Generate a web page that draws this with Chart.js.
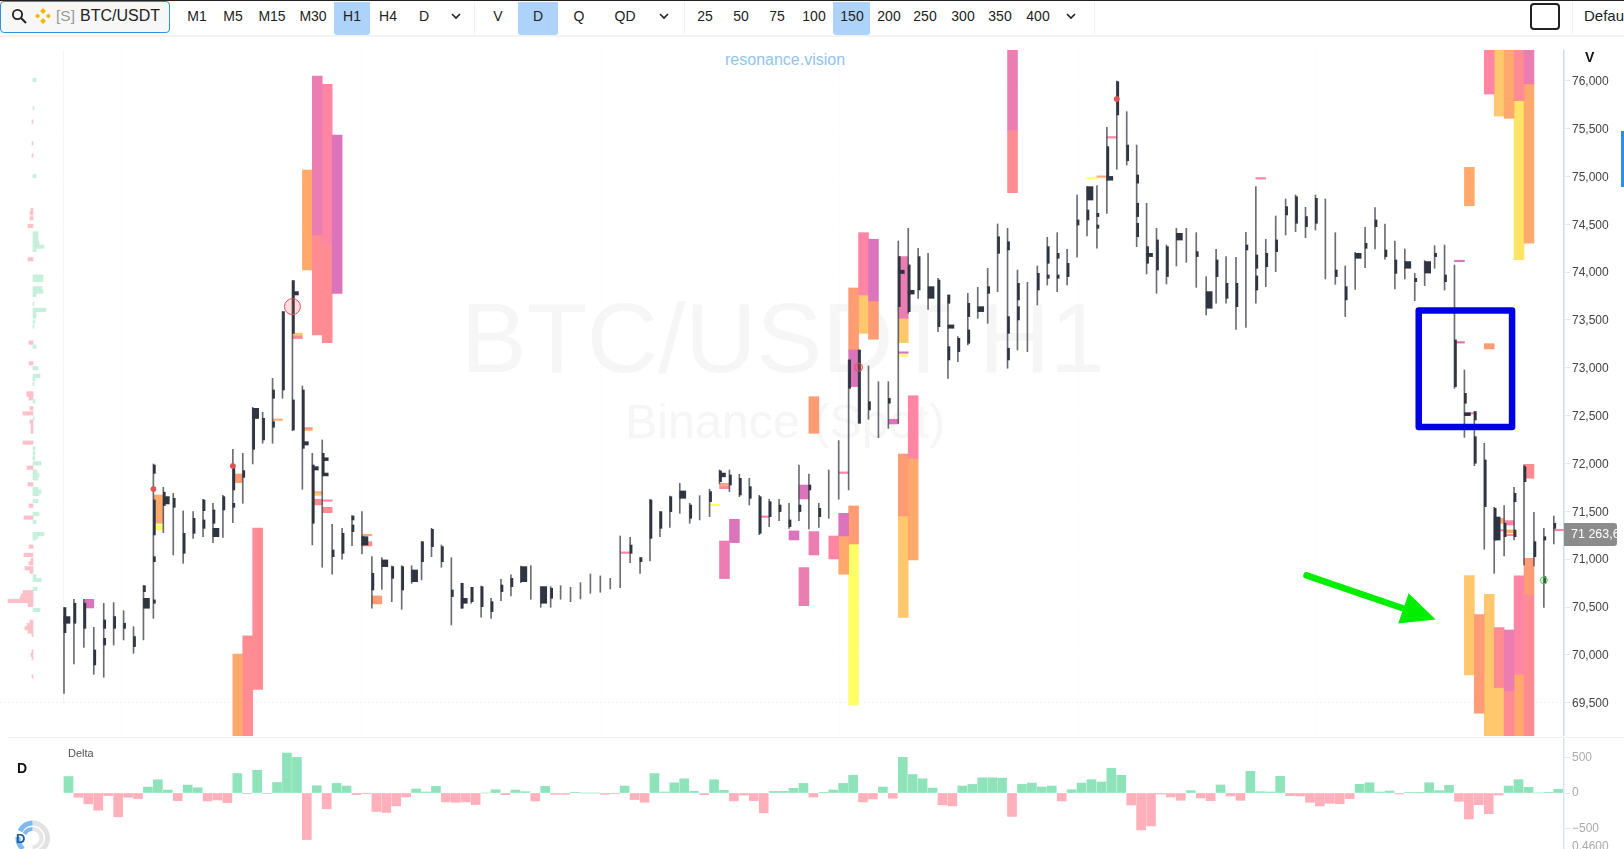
<!DOCTYPE html>
<html>
<head>
<meta charset="utf-8">
<title>BTC/USDT H1</title>
<script src="https://cdn.jsdelivr.net/npm/chart.js@4"></script>
<style>
html,body{margin:0;padding:0;background:#fff;overflow:hidden}
body{width:1624px;height:849px;position:relative;font-family:"Liberation Sans",Arial,sans-serif;color:#222}
canvas{position:absolute;display:block}
.abs{position:absolute;white-space:nowrap}
#topline{left:0;top:0;width:1624px;height:1px;background:#222}
#bar{left:0;top:1px;width:1624px;height:34px;background:#fff;border-bottom:2px solid #f3f3f3}
#search{left:0;top:1px;width:168px;height:30px;background:#f7f7f7;border:1px solid #2f8fd8;border-radius:4px}
.hl{position:absolute;top:1px;height:33px;background:#aed3fb;border-radius:0 0 3px 3px}
.btn{position:absolute;top:16px;transform:translate(-50%,-50%);font-size:14px;color:#222}
.sep{position:absolute;top:1px;width:1px;height:32px;background:#f1f1f1}
#mark{left:725px;top:51px;font-size:16px;color:#8fc4f0}
#wm1{left:461px;top:282px;font-size:98.5px;line-height:112px;color:#f6f6f7}
#wm2{left:625px;top:393px;font-size:48.4px;line-height:56px;color:#f6f6f7}
</style>
</head>
<body>
<div id="wm1" class="abs">BTC/USDT H1</div>
<div id="wm2" class="abs">Binance (Spot)</div>
<div class="abs" style="left:63px;top:50px;width:1px;height:655px;background:#f4f4f4"></div>
<div class="abs" style="left:8px;top:737px;width:1616px;height:1px;background:#f2f2f2"></div>
<div id="mark" class="abs">resonance.vision</div>

<canvas id="profileChart" width="63" height="686" style="left:0;top:50px"></canvas>
<canvas id="priceChart" width="1624" height="686" style="left:0;top:50px"></canvas>
<canvas id="deltaChart" width="1624" height="111" style="left:0;top:738px"></canvas>

<div id="topline" class="abs"></div>
<div id="bar" class="abs"></div>
<div id="search" class="abs"></div>
<svg class="abs" style="left:11px;top:8px" width="16" height="16" viewBox="0 0 16 16"><circle cx="6.5" cy="6.5" r="4.6" fill="none" stroke="#222" stroke-width="1.8"/><path d="M10 10l5 5" stroke="#222" stroke-width="2"/></svg>
<svg class="abs" style="left:35px;top:8px" width="16" height="16" viewBox="0 0 16 16"><path d="M8 0l3 3-3 3-3-3zM2.6 5.4l2.6 2.6-2.6 2.6L0 8zM13.4 5.4L16 8l-2.6 2.6L10.800 8zM8 10l3 3-3 3-3-3z" fill="#f0b90b"/></svg>
<div class="abs" style="left:56px;top:7px;font-size:15.5px;color:#9a9a9a">[S]</div>
<div class="abs" style="left:80px;top:7px;font-size:16px;color:#222">BTC/USDT</div>

<div class="abs" style="left:1530px;top:3px;width:26px;height:23px;border:2px solid #222;border-radius:4px"></div>
<div class="abs" style="left:1584px;top:7px;width:40px;overflow:hidden;font-size:15px">Default</div>

<div class="abs" style="left:1585px;top:49px;font-size:14px;font-weight:bold;color:#111">V</div>
<div class="abs" style="left:17px;top:760px;font-size:14px;font-weight:bold;color:#111">D</div>
<div class="abs" style="left:68px;top:747px;font-size:11px;color:#555">Delta</div>
<div class="abs" style="left:1621px;top:131px;width:3px;height:56px;background:#2a8fe8"></div>
<div class="abs" style="left:1564px;top:523px;width:53px;height:23px;background:#8c8c8c;border-radius:0 3px 3px 0;overflow:hidden">
  <div class="abs" style="left:7px;top:4px;font-size:12.500px;color:#fff">71 263,6</div>
</div>
<div class="abs" style="left:1572px;top:839px;height:10px;overflow:hidden;font-size:12px;line-height:14px;color:#aaa">0.4600</div>

<svg class="abs" style="left:14px;top:820px" width="36" height="29" viewBox="0 0 36 29">
  <path d="M18.500 3A15 15 0 0 1 18.500 33" fill="none" stroke="#e2e2e2" stroke-width="5"/>
  <path d="M18.500 9A9 9 0 0 1 18.500 27" fill="none" stroke="#e6e6e6" stroke-width="4"/>
  <path d="M18.500 3A15 15 0 0 0 6 11M4 17A15 15 0 0 0 9 29" fill="none" stroke="#7fb8ee" stroke-width="5"/>
  <path d="M18.500 9A9 9 0 0 0 10.500 14" fill="none" stroke="#7fb8ee" stroke-width="4"/>
</svg>
<div class="abs" style="left:16px;top:831px;font-size:13px;font-weight:bold;color:#1c5e9e">D</div>

<script>
// price scale bounds of the main pane
const priceTop = 76321;
const priceBottom = 69152;
const priceTicks = [69500,70000,70500,71000,71500,72000,72500,73000,73500,74000,74500,75000,75500,76000];

const candleHigh = [70494,70580,70580,70288,70539,70546,70462,70295,70723,71995,
71751,71688,71504,71497,71626,71584,71667,72148,72106,72587,
72535,72890,73587,73911,72810,72106,72246,71364,71322,71455,
71497,71026,71016,70929,70932,70932,71183,71322,71148,71016,
70748,70706,70720,70591,70790,70835,70929,70932,70713,70713,
70723,70706,70755,70845,70825,70800,71242,71229,71016,71626,
71497,71660,71793,71584,71664,71730,71932,71932,71887,71845,
71667,71626,71626,71584,71984,71890,71584,71932,72239,73082,
73186,73019,72855,72855,74325,74458,74249,74196,73935,73761,
73326,73778,73841,74040,74503,74458,74022,73893,74064,74364,
74412,74238,74806,74893,74903,75513,75997,75677,75328,74719,
74458,74283,74458,74458,74412,73953,74238,74162,74155,74416,
74893,74343,74586,74764,74806,74677,74806,74764,74412,74064,
74207,74468,74673,74503,74325,74242,73987,74120,74277,74283,
74074,72977,72542,72211,71542,71559,71751,71984,71490,71322,71451];

const candleLow = [69598,69905,70079,69797,69766,70103,70156,70016,70156,70382,
71277,71044,70957,71218,71235,71173,71228,71382,71584,71995,
72211,72211,72681,72343,71730,71148,70915,70842,71000,71141,
71054,70487,70685,70556,70476,70748,70783,71026,70915,70312,
70487,70539,70393,70382,70567,70615,70755,70581,70497,70497,
70581,70556,70584,70643,70654,70689,70703,70964,70852,70981,
71235,71333,71479,71375,71410,71444,71786,71706,71653,71566,
71256,71340,71403,71322,71403,71316,71333,71427,71626,71723,
72420,72462,72270,72367,72419,73570,73726,73611,73378,72890,
73064,73239,73517,73465,73796,72995,73186,73169,73657,73865,
73796,73865,74155,74377,74249,74614,75074,75119,74266,73980,
73778,73876,74064,74102,73841,73552,73674,73674,73402,73423,
73674,73848,74005,74388,74423,74360,74440,73928,73872,73535,
73820,74047,74242,74134,73824,73928,73702,73859,74040,73813,
72786,72273,71977,71103,70852,71033,71201,70939,70929,70497,71159];

// per candle volume profile: [candle, top price, bottom price]
const profileThin = [[0,70494,70232],[1,70539,70330],[2,70539,70277],[3,70051,69895],[4,70365,70277],[4,70173,70103],[5,70400,70277],[6,70330,70277],[7,70191,70086],[8,70723,70660],
[9,71984,71897],[9,71619,71253],[9,71026,70974],[9,70574,70539],[10,71700,71560],[11,71636,71542],[12,71270,71061],[13,71427,71270],[14,71619,71507],[14,71410,71322],
[15,71514,71375],[16,71653,71514],[17,71984,71723],[17,71584,71542],[18,71925,71855],[19,72576,72148],[20,72472,72246],[21,72768,72681],[21,72437,72378],[22,73587,72768],
[23,73911,73360],[23,72664,72350],[24,72768,72158],[25,71984,71375],[26,72106,71897],[27,71096,71026],[28,71270,71061],[29,71451,71410],[29,71357,71288],[30,71235,71148],
[31,70852,70678],[33,70922,70800],[34,70922,70678],[36,71183,70974],[37,71312,71131],[38,71131,70974],[39,70678,70609],[40,70748,70487],[41,70706,70556],[42,70713,70504],
[43,70556,70452],[44,70730,70661],[45,70800,70713],[49,70696,70591],[57,71148,71061],[58,71016,70974],[59,71619,71218],[60,71497,71322],[61,71653,71497],[63,71566,71427],
[65,71706,71601],[66,71922,71810],[67,71880,71775],[68,71845,71671],[69,71758,71636],[70,71653,71270],[71,71601,71444],[72,71566,71497],[73,71410,71340],[74,71566,71497],
[75,71775,71723],[76,71531,71444],[79,73082,72785],[80,73186,72420],[81,72646,72559],[83,72680,72630],[84,74162,73639],[85,74075,73587],[86,74162,73813],[88,73917,73430],
[89,73761,73674],[89,73221,73082],[90,73308,73169],[91,73674,73535],[91,73395,73256],[93,73848,73778],[94,74370,74196],[95,74318,74231],[95,73535,73360],[95,73204,73082],
[96,73883,73709],[96,73639,73500],[98,73987,73813],[99,74266,74092],[99,73970,73935],[100,74196,74144],[100,73970,73935],[101,74092,73953],[102,74545,74492],[103,74649,74545],
[104,74614,74580],[104,74492,74458],[105,75311,74963],[106,75990,75642],[107,75328,75165],[108,75015,74930],[108,74720,74580],[108,74510,74370],[109,74266,74092],[110,74336,74022],[111,74266,73953],[114,74214,74162],
[116,74127,73953],[117,73883,73726],[118,73883,73639],[119,74283,74231],[120,74179,74040],[120,73960,73813],[121,74196,74057],[122,74336,74214],[123,74684,74597],[124,74788,74510],[125,74580,74475],
[126,74771,74510],[128,74022,73953],[129,73848,73709],[131,74301,74249],[132,74545,74475],[133,74231,74162],[134,74127,73987],[136,73935,73900],[138,74196,74162],[139,73970,73900],
[140,73291,72803],[141,72733,72629],[142,72542,72455],[142,72280,72002],[143,72037,71549],[144,71532,71200],[145,71375,71235],[146,71688,71601],[146,71305,71235],[147,71967,71810],
[148,71183,71026],[149,71235,71200],[149,70818,70748],[150,71375,71322]];

const profileWide = [[0,70400,70330],[8,70591,70487],[10,71654,71577],[15,71322,71235],[19,72576,72470],[23,73796,73761],[24,72228,72193],[25,71967,71932],[26,72060,72030],[26,71900,71870],
[30,71235,71148],[32,70992,70922],[35,70887,70765],[40,70591,70539],[46,70922,70765],[48,70713,70539],[62,71713,71636],[66,71900,71860],[84,74020,73985],[85,73810,73770],
[87,73848,73726],[89,73448,73413],[92,73639,73587],[103,74893,74753],[105,75000,74960],[109,74196,74162],[112,74405,74335],[115,73796,73622],[130,74196,74144],[135,74110,74040],
[137,74110,73990],[141,72530,72500],[144,71440,71200]];

// large volume blocks grouped by heat colour: [candle, top price, bottom price]
const hotPinkBlocks = [[80,74412,73761],[143,76400,75861],[146,70825,69797],[77,71242,71002],[85,72708,72053],[26,75962,74301],[26,71620,71605],[56,71076,71060],[70,71452,71436],[78,71912,71896],[105,75416,75400],[120,74988,74972],[141,72532,72516],[145,71403,71357],[145,71261,71245],[144,71310,71294],[150,71313,71297],[66,71758,71737]];
const pinkBlocks = [[25,76049,74388],[66,71190,70797],[74,70912,70514],[75,71288,71044],[84,74162,73517],[95,76400,75485],[147,76400,75966],[145,70260,69623]];
const purpleBlocks = [[27,75433,73778],[2,70580,70490],[67,71417,71173],[73,71295,71201],[74,71775,71629],[78,71479,71242],[79,73186,72803],[81,74343,73698],[83,72462,72413],[140,73274,73258],[84,73167,73151],[140,74124,74108]];
const salmonBlocks = [[25,74388,73343],[26,74301,73263],[18,70198,69100],[19,71326,69640],[95,75485,74830],[146,76400,75792],[147,70626,69100],[147,71991,71845],[144,70285,69658],[145,69623,69100],[26,71542,71486],[25,71626,71567],[30,71183,71138],[23,73335,73305],[24,72375,72359]];
const coralBlocks = [[17,71890,71800],[75,72698,72315],[79,73834,73186],[79,71556,71159],[81,73698,73298],[84,72099,71451],[31,70616,70532],[142,70420,69390],[147,71009,70626],[143,73252,73197]];
const orangeBlocks = [[24,75067,74022],[9,71671,71375],[17,70009,69100],[78,71242,70842],[85,72053,70991],[141,75095,74694],[145,76400,75607],[146,69797,69100],[144,71427,71375],[145,71305,71277],[147,75966,74301],[21,72465,72450],[30,71260,71245],[66,71793,71758],[104,75006,74990],[25,71706,71690]];
const amberBlocks = [[80,73761,73360],[84,73517,73263],[84,71451,70392],[141,70828,69790],[143,70633,69100],[144,76400,75631],[144,69658,69100],[23,73362,73340],[24,72358,72342],[25,71683,71667]];
const yellowBlocks = [[79,71159,69477],[9,71357,71305],[65,71574,71558],[84,73135,73119],[103,74988,74972]];
const goldBlocks = [[146,75792,74130]];

// markers on the tape: [candle, price]
const ringMarkers = [[23,73639]];
const smallRingMarkers = [[80,73005]];
const dotMarkers = [[9,71733],[17,71974],[106,75809]];
const greenMarkers = [[149,70779]];

// drawn-on annotations, in chart units
const boxCandles = [136.4,145.8];
const boxPrices = [73599,72381];
const arrowCandles = [125.1,138.1];
const arrowPrices = [70830,70370];

// session tape at the left of the price pane
const tapeLevels = [76008,75711,75572,75346,75220,75004,74649,74614,74562,74482,74405,74370,74335,74301,74266,74231,74134,73953,73918,73831,73796,73761,73670,73605,73570,73535,73482,73431,73263,73221,73047,72995,72915,72880,72830,
72733,72716,72681,72650,72576,72524,72470,72437,72402,72367,72333,72218,72158,72106,72054,72002,71956,71915,71880,71845,71782,71733,71706,71681,71608,71559,71472,71434,71389,71263,71235,71218,71131,71044,70992,70957,70905,70870,70820,70783,70689,70654,70619,70591,70563,70521,70469,70347,70312,70278,70243,70208,70034,70000,69965,69773];
const tapeVolumes = [3,1,-1,-1,-1,3,-2,-3,-3,-5,5,5,5,6,11,3,-5,10,10,9,10,3,1,13,3,3,2,1,-4,3,-4,5,7,2,1,
-6,-6,-4,2,-3,-10,1,-3,-2,-2,-2,-10,2,2,2,8,-6,4,6,5,-5,5,8,6,5,-4,6,-9,3,11,5,3,-4,-9,-2,-4,-8,-3,3,8,4,-10,-12,-13,-25,-5,7,-3,-6,-8,-5,-1,-1,-2,-1,-1];

// delta histogram, one value per candle
const deltaValues = [232,-60,-153,-242,-37,-335,-60,-79,84,186,42,-107,112,74,-112,-98,-135,274,-9,321,-6,149,563,502,-656,102,-223,135,98,-23,
-2,-260,-274,-181,-56,56,14,93,-126,-130,-126,-163,0,46,-23,42,19,-112,93,-19,-19,9,0,0,-19,-9,98,-93,-130,274,
14,144,200,23,-23,186,37,-112,-28,-107,-279,23,23,65,135,-56,3,42,135,251,-126,-84,84,-74,502,260,200,70,-167,-181,
98,121,214,214,209,-330,121,140,84,98,-112,46,140,188,155,347,249,-169,-520,-464,-14,-56,-103,33,-70,-108,113,-42,-103,305,
19,14,235,-38,-42,-131,-183,-145,-150,-80,122,145,14,28,-14,9,1,145,33,108,-117,-366,-164,-291,-28,98,188,80,0,9,52];

const deltaTicks = [-500,0,500];
const dayTicks = [5.74,30,54.07,78.1,102.1,126.06];

// toolbar
const barLabels = ['M1','M5','M15','M30','H1','H4','D','V','D','Q','QD','25','50','75','100','150','200','250','300','350','400'];
const barCentres = [197,233,272,313,352,388,424,498,538,579,625,705,741,777,814,852,889,925,963,1000,1038];
const chevrons = [456,664,1071];
const separators = [474,684,1094,1572];
[[334,36],[518,40],[833,37]].forEach(function(h){
    var d = document.createElement('div');
    d.className = 'hl';
    d.style.left = h[0] + 'px';
    d.style.width = h[1] + 'px';
    document.getElementById('bar').appendChild(d);
});
barLabels.forEach(function(t,i){
    var s = document.createElement('span');
    s.className = 'btn';
    s.style.left = barCentres[i] + 'px';
    s.textContent = t;
    document.body.appendChild(s);
});
chevrons.forEach(function(x){
    var s = document.createElementNS('http://www.w3.org/2000/svg','svg');
    s.setAttribute('width','10');
    s.setAttribute('height','7');
    s.setAttribute('class','abs');
    s.style.left = (x-5) + 'px';
    s.style.top = '13px';
    s.innerHTML = '<path d="M1 1l4 4 4-4" fill="none" stroke="#222" stroke-width="1.6"/>';
    document.body.appendChild(s);
});
separators.forEach(function(x){
    var d = document.createElement('div');
    d.className = 'sep';
    d.style.left = x + 'px';
    document.getElementById('bar').appendChild(d);
});

// candle 0 sits at x=64 and candles are 9.932px apart, axis line at x=1564
const xMin = -64/9.932;
const xMax = (1564-64)/9.932;

function blockDataset(list, colour){
    return {
        type: 'bar',
        grouped: false,
        order: 5,
        barThickness: 9.93,
        backgroundColor: colour,
        data: list.map(function(b){ return {x: b[0]+0.5, y: [b[2], b[1]]}; })
    };
}
function profileDataset(list, offset, thick){
    return {
        type: 'bar',
        grouped: false,
        order: 3,
        barThickness: thick,
        backgroundColor: '#2f3540',
        data: list.map(function(b){ return {x: b[0]+offset, y: [b[2], b[1]]}; })
    };
}
function markerDataset(list, radius, fill, stroke){
    return {
        type: 'scatter',
        order: 1,
        pointRadius: radius,
        backgroundColor: fill,
        borderColor: stroke,
        borderWidth: 1,
        data: list.map(function(m){ return {x: m[0], y: m[1]}; })
    };
}
function noPadding(s){
    s.paddingTop = 0;
    s.paddingBottom = 0;
    s.paddingLeft = 0;
    s.paddingRight = 0;
}

// blue box and green arrow from the screenshot
const drawings = {
    id: 'drawings',
    afterDatasetsDraw: function(chart){
        var c = chart.ctx, x = chart.scales.x, y = chart.scales.y;
        var x0 = x.getPixelForValue(boxCandles[0]), x1 = x.getPixelForValue(boxCandles[1]);
        var y0 = y.getPixelForValue(boxPrices[0]), y1 = y.getPixelForValue(boxPrices[1]);
        c.save();
        c.strokeStyle = '#0000e6';
        c.lineWidth = 6.5;
        c.lineJoin = 'round';
        c.strokeRect(x0, y0, x1-x0, y1-y0);

        var ax = x.getPixelForValue(arrowCandles[0]), ay = y.getPixelForValue(arrowPrices[0]);
        var bx = x.getPixelForValue(arrowCandles[1]), by = y.getPixelForValue(arrowPrices[1]);
        var a = Math.atan2(by-ay, bx-ax);
        var len = 34, half = 16;
        var mx = bx-Math.cos(a)*len, my = by-Math.sin(a)*len;
        c.strokeStyle = '#00ee00';
        c.fillStyle = '#00ee00';
        c.lineWidth = 6.5;
        c.lineCap = 'round';
        c.beginPath();
        c.moveTo(ax, ay);
        c.lineTo(mx, my);
        c.stroke();
        c.beginPath();
        c.moveTo(bx, by);
        c.lineTo(mx-Math.sin(a)*half, my+Math.cos(a)*half);
        c.lineTo(mx+Math.sin(a)*half, my-Math.cos(a)*half);
        c.closePath();
        c.fill();
        c.restore();
    }
};

var priceChart = new Chart(document.getElementById('priceChart'), {
    type: 'bar',
    plugins: [drawings],
    data: {
        datasets: [
            blockDataset(pinkBlocks, '#ec7db0'),
            blockDataset(purpleBlocks, '#dc74bb'),
            blockDataset(hotPinkBlocks, '#ff85a5'),
            blockDataset(salmonBlocks, '#ff8c92'),
            blockDataset(coralBlocks, '#ff9c74'),
            blockDataset(orangeBlocks, '#ffaa6c'),
            blockDataset(amberBlocks, '#ffc76e'),
            blockDataset(goldBlocks, '#ffe566'),
            blockDataset(yellowBlocks, '#ffff66'),
            {
                type: 'bar',
                grouped: false,
                order: 4,
                barThickness: 1,
                backgroundColor: 'rgba(70,72,80,0.8)',
                data: candleHigh.map(function(h,i){ return {x: i, y: [candleLow[i], h]}; })
            },
            profileDataset(profileThin, 0.1, 2),
            profileDataset(profileWide, 0.3, 6),
            markerDataset(ringMarkers, 8, 'rgba(240,80,80,0.2)', '#e25555'),
            markerDataset(smallRingMarkers, 4, 'rgba(240,80,80,0.25)', '#e25555'),
            markerDataset(dotMarkers, 2.500, '#e8504f', '#e8504f'),
            markerDataset(greenMarkers, 3.500, 'rgba(90,200,90,0.25)', '#5bc85b')
        ]
    },
    options: {
        responsive: false,
        animation: false,
        events: [],
        layout: {padding: 0, autoPadding: false},
        plugins: {legend: {display: false}, tooltip: {enabled: false}},
        scales: {
            x: {
                type: 'linear',
                offset: false,
                min: xMin,
                max: xMax,
                afterBuildTicks: function(s){ s.ticks = dayTicks.map(function(v){ return {value: v}; }); },
                afterFit: function(s){ s.height = 0; noPadding(s); },
                ticks: {display: false},
                grid: {offset: false, color: 'rgba(0,0,0,0.035)', drawTicks: false},
                border: {display: false, dash: [1,3]}
            },
            y: {
                type: 'linear',
                position: 'right',
                min: priceBottom,
                max: priceTop,
                afterBuildTicks: function(s){ s.ticks = priceTicks.map(function(v){ return {value: v}; }); },
                afterFit: function(s){ s.width = 60; noPadding(s); },
                ticks: {
                    padding: 2,
                    labelOffset: 1,
                    color: '#444',
                    font: {family: '"Liberation Sans"', size: 12},
                    callback: function(v){ return v.toLocaleString('en-US'); }
                },
                grid: {
                    color: function(c){ return c.tick && c.tick.value === 69500 ? '#ececec' : 'rgba(0,0,0,0.025)'; },
                    tickColor: '#dfe8f1',
                    tickLength: 6
                },
                border: {color: '#c9def3', width: 1.500, dash: [1,3]}
            }
        }
    }
});

var profileChart = new Chart(document.getElementById('profileChart'), {
    type: 'bar',
    data: {
        datasets: [{
            barThickness: 3.500,
            backgroundColor: function(c){ return c.raw && c.raw.x < 0 ? '#ffc0c9' : '#c6f0dc'; },
            data: tapeLevels.map(function(p,i){ return {x: tapeVolumes[i], y: p}; })
        }]
    },
    options: {
        indexAxis: 'y',
        responsive: false,
        animation: false,
        events: [],
        layout: {padding: 0, autoPadding: false},
        plugins: {legend: {display: false}, tooltip: {enabled: false}},
        scales: {
            x: {type: 'linear', display: false, min: -33, max: 30},
            y: {type: 'linear', display: false, offset: false, min: priceBottom, max: priceTop}
        }
    }
});

var deltaChart = new Chart(document.getElementById('deltaChart'), {
    type: 'bar',
    data: {
        datasets: [{
            barThickness: 9,
            backgroundColor: function(c){ return c.raw && c.raw.y < 0 ? '#ffb0bb' : '#8fe3bb'; },
            data: deltaValues.map(function(v,i){ return {x: i+0.45, y: v}; })
        }]
    },
    options: {
        responsive: false,
        animation: false,
        events: [],
        layout: {padding: 0, autoPadding: false},
        plugins: {legend: {display: false}, tooltip: {enabled: false}},
        scales: {
            x: {
                type: 'linear',
                offset: false,
                min: xMin,
                max: xMax,
                afterFit: function(s){ s.height = 0; noPadding(s); },
                ticks: {display: false},
                grid: {display: false},
                border: {display: false}
            },
            y: {
                type: 'linear',
                position: 'right',
                min: -789,
                max: 775,
                afterBuildTicks: function(s){ s.ticks = deltaTicks.map(function(v){ return {value: v}; }); },
                afterFit: function(s){ s.width = 60; noPadding(s); },
                ticks: {
                    padding: 2,
                    color: '#aaa',
                    font: {family: '"Liberation Sans"', size: 12},
                    callback: function(v){ return String(v).replace('-', '\u2212'); }
                },
                grid: {drawOnChartArea: false, tickColor: '#dfe8f1', tickLength: 6},
                border: {color: '#d5e6f5', width: 1.500}
            }
        }
    }
});
</script>
</body>
</html>
